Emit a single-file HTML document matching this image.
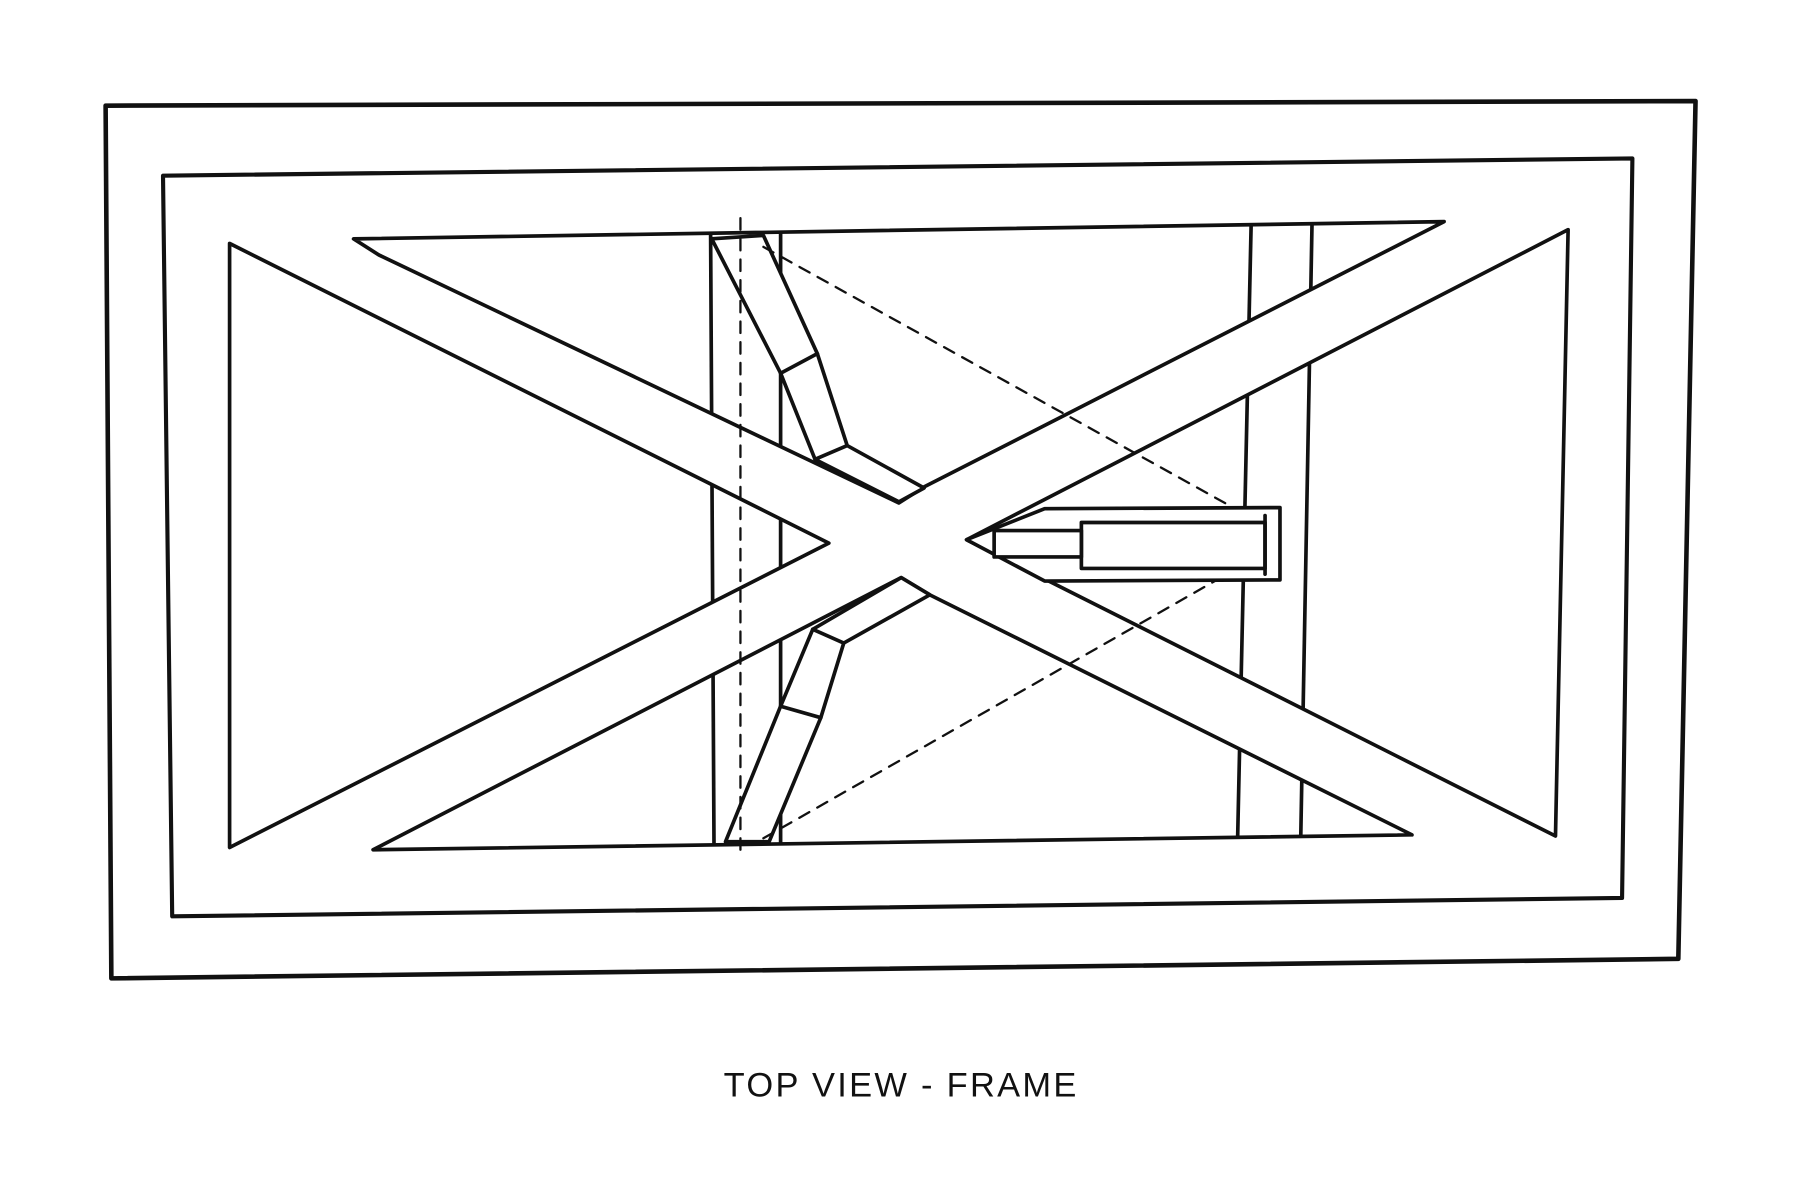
<!DOCTYPE html>
<html><head><meta charset="utf-8"><style>
html,body{margin:0;padding:0;background:#fff;}
svg{display:block;}
</style></head><body>
<svg width="1800" height="1200" viewBox="0 0 1568 1045" preserveAspectRatio="none" xmlns="http://www.w3.org/2000/svg">
<defs>
<clipPath id="tris">
<polygon points="200,212 722,473 200,738"/>
<polygon points="1366,200 842,470 1355,728"/>
<polygon points="308,208 1258,193 805,424 783,438"/>
<polygon points="325,740 1230,727 810,518 785,503"/>
</clipPath>
</defs>
<rect width="1568" height="1045" fill="#fff"/>
<g fill="none" stroke="#111" stroke-width="3.2" stroke-linejoin="round" stroke-linecap="round">
<polygon points="92,92 1477,88 1462,835 97,852" stroke-width="4"/>
<polygon points="142,153 1422,138 1413,782 150,798" stroke-width="3.6"/>
<g clip-path="url(#tris)">
<line x1="619" y1="200" x2="622" y2="740"/>
<line x1="680" y1="200" x2="680" y2="740"/>
<line x1="1090" y1="190" x2="1078" y2="735"/>
<line x1="1143" y1="190" x2="1133" y2="735"/>
</g>
<polygon points="200,212 722,473 200,738"/>
<polygon points="1366,200 842,470 1355,728"/>
<polygon points="308,208 1258,193 805,424 783,438 330,222"/>
<polygon points="325,740 1230,727 810,518 785,503"/>
<g fill="#fff">
<polygon points="620,208 665,205 712,308 738,388 805,425 783,437 710,400 680,325"/>
<line x1="680" y1="325" x2="712" y2="308"/>
<line x1="710" y1="400" x2="738" y2="388"/>
</g>
<g fill="#fff">
<polygon points="785,503 810,518 735,560 715,625 670,733 632,733 680,615 708,548"/>
<line x1="708" y1="548" x2="735" y2="560"/>
<line x1="680" y1="615" x2="715" y2="625"/>
</g>
<g stroke-width="2" stroke-dasharray="10,8">
<line x1="645" y1="190" x2="645" y2="745"/>
<line x1="665" y1="215" x2="1085" y2="448"/>
<line x1="665" y1="730" x2="1060" y2="505"/>
</g>
<g fill="#fff">
<polygon points="910,443 1115,442 1115,505 910,506 842,470"/>
<rect x="942" y="455" width="160" height="40"/>
<line x1="1102" y1="449" x2="1102" y2="500"/>
<rect x="866" y="462" width="76" height="23"/>
</g>
</g>
<text x="785" y="955" text-anchor="middle" font-family="Liberation Sans, sans-serif" font-size="30" fill="#111" letter-spacing="2">TOP VIEW - FRAME</text>
</svg>
</body></html>
